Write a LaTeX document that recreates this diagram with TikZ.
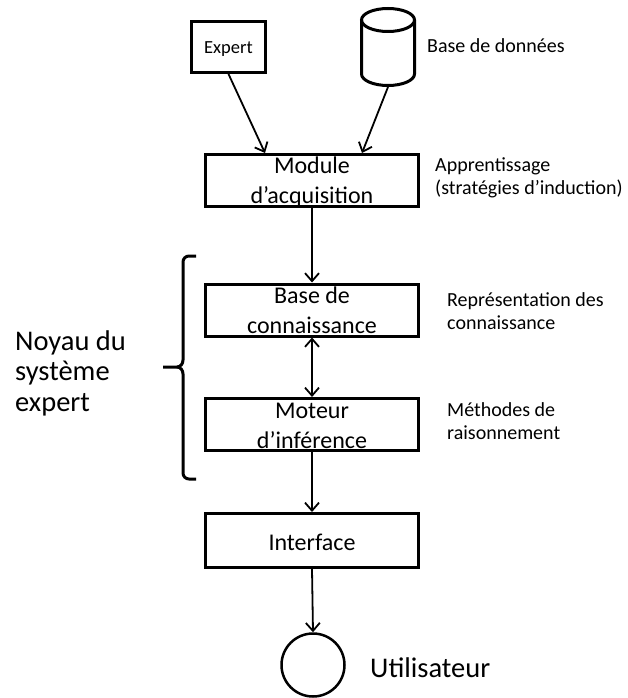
\documentclass[tikz,border=0pt]{standalone}
\usepackage{fontspec}
\setmainfont{Carlito}
\usetikzlibrary{arrows.meta,calc}

% multi-line nodes are anchored on the baseline of their last line
\tikzset{
  box/.style={draw, line width=3pt, minimum width=213pt, minimum height=52pt, inner sep=0pt},
  boxtext/.style={anchor=base, inner sep=0pt, align=center, font=\fontsize{24}{30}\selectfont},
  arr/.style={line width=1.8pt, -{Straight Barb[length=8pt,width=14pt]}},
  darr/.style={line width=1.8pt, {Straight Barb[length=8pt,width=14pt]}-{Straight Barb[length=8pt,width=14pt]}},
  note/.style={anchor=base west, inner sep=0pt, align=left, font=\fontsize{20}{23}\selectfont},
  big/.style={anchor=base west, inner sep=0pt, align=left, font=\fontsize{28.5}{30.5}\selectfont},
}

\begin{document}
\begin{tikzpicture}[x=1pt,y=-1pt]
  \useasboundingbox (0,0) rectangle (627,698);

  % sources
  \node[draw, line width=3pt, minimum width=74pt, minimum height=51pt, inner sep=0pt] (expert) at (228.5,47) {};
  \node[anchor=base, inner sep=0pt, font=\fontsize{18.5}{22}\selectfont] (experttext) at (228.5,54) {Expert};

  % database drum
  \node[minimum width=56pt, minimum height=80pt, inner sep=0pt, outer sep=0pt] (db) at (388,47) {};
  \draw[line width=3pt] (361.5,20) -- (361.5,74) arc[start angle=180, end angle=360, x radius=26.5, y radius=-11.5]
        -- (414.5,20);
  \draw[line width=3pt] (388,20) ellipse[x radius=26.5, y radius=11.5];
  \node[note] (dblabel) at (427,53) {Base de données};

  % main chain
  \node[box] (module) at (312,180.5) {};
  \node[boxtext] (moduletext) at (312,203.3) {Module\\d’acquisition};
  \node[box] (base) at (312,310) {};
  \node[boxtext] (basetext) at (312,333) {Base de\\connaissance};
  \node[box] (moteur) at (312,424.5) {};
  \node[boxtext] (moteurtext) at (312,448) {Moteur\\d’inférence};
  \node[box, minimum height=54pt] (iface) at (312,540.5) {};
  \node[boxtext] (ifacetext) at (312,550) {Interface};
  \node[draw, circle, line width=2.5pt, minimum size=63pt, inner sep=0pt] (user) at (313,665) {};
  \node[big] (userlabel) at (370,677) {Utilisateur};

  % side notes
  \node[note] (learn) at (435,194) {Apprentissage\\(stratégies d’induction)};
  \node[note] (repr) at (447,329) {Représentation des\\connaissance};
  \node[note] (meth) at (447,439.5) {Méthodes de\\raisonnement};

  % connectors
  \draw[arr] (expert.south) -- ($(module.north)+(-47,0)$);
  \draw[arr] (db.south) -- ($(module.north)+(50,0)$);
  \draw[arr] (module.south) -- (base.north);
  \draw[darr] (base.south) -- (moteur.north);
  \draw[arr] (moteur.south) -- (iface.north);
  \draw[arr] (iface.south) -- (user.north);

  % core brace
  \draw[line width=3pt] (196,256) -- (189,256) to[out=180,in=90] (183,262) -- (183,360)
        to[out=-90,in=0] (177,367) -- (163,367);
  \draw[line width=3pt] (196,479) -- (189,479) to[out=180,in=-90] (183,473) -- (183,374)
        to[out=90,in=0] (177,367);
  \node[big] (core) at (15,411) {Noyau du\\système\\expert};
\end{tikzpicture}
\end{document}
